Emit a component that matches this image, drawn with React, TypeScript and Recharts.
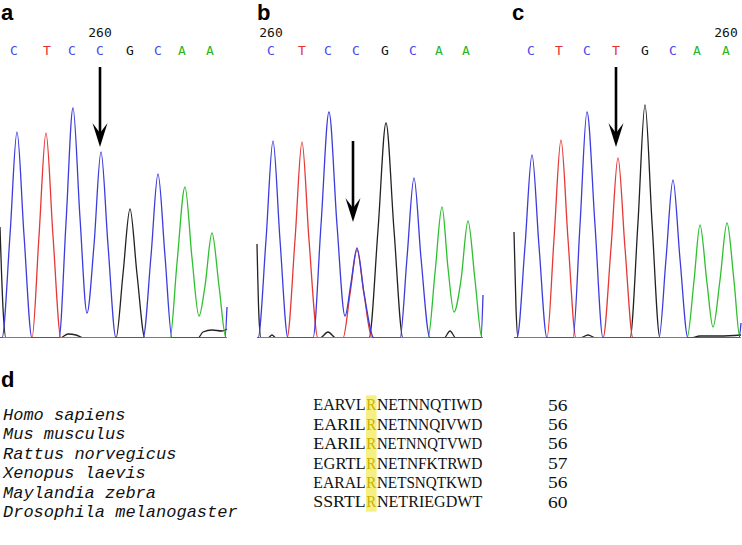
import { Line, LineChart, ReferenceDot, ReferenceLine, XAxis, YAxis } from "recharts";

// trace colours as the sequencer software draws them
const BLUE = "#3c3cdc";
const RED = "#e53935";
const GREEN = "#2fbf2f";
const BLACK = "#222222";
const BASE_COLOR: Record<string, string> = { C: "#4848e6", T: "#e03030", G: "#111111", A: "#25b525" };

// panel a (wild type)
const aBases = ["C", "T", "C", "C", "G", "C", "A", "A"];
const aBasePos = [14, 47, 72, 100, 130, 158, 182, 210];
const aBlack = [[0, 111], [3, 30], [6, 0], [60, 0], [68, 4], [76, 3], [84, 0], [116, 0], [123, 64], [130, 129], [137, 64], [145, 0], [198, 0], [203, 6], [212, 8], [222, 7], [227, 9]];
const aBlue = [[0, 0], [2, 0], [10, 103], [17, 206], [24, 103], [32, 0], [59, 0], [66, 115], [73, 230], [80, 120], [87, 25], [94, 93], [101, 186], [108, 93], [116, 0], [143, 0], [151, 82], [158, 164], [165, 82], [172, 0], [225, 0], [227, 31]];
const aRed = [[0, 0], [32, 0], [39, 102], [46, 205], [53, 102], [61, 0], [227, 0]];
const aGreen = [[0, 0], [170, 0], [177, 75], [185, 151], [192, 80], [199, 22], [205, 52], [212, 105], [219, 52], [226, 0], [227, 0]];

// panel b (heterozygous)
const bBases = ["C", "T", "C", "C", "G", "C", "A", "A"];
const bBasePos = [271, 302, 328, 356, 385, 413, 439, 466];
const bBlack = [[257, 94], [259, 20], [261, 0], [268, 0], [272, 3], [276, 0], [320, 0], [328, 6], [336, 0], [369, 0], [378, 108], [386, 215], [394, 108], [403, 0], [444, 0], [450, 7], [456, 0], [483, 0]];
const bBlue = [[257, 0], [258, 0], [266, 98], [273, 197], [280, 98], [288, 0], [313, 0], [321, 113], [329, 226], [337, 113], [345, 22], [351, 55], [357, 90], [364, 45], [374, 0], [400, 0], [407, 80], [414, 160], [421, 80], [430, 0], [481, 0], [483, 43]];
const bRed = [[257, 0], [287, 0], [295, 98], [302, 196], [309, 98], [318, 0], [343, 0], [350, 44], [357, 88], [364, 44], [372, 0], [483, 0]];
const bGreen = [[257, 0], [428, 0], [435, 65], [442, 131], [448, 70], [454, 26], [461, 58], [468, 117], [475, 58], [482, 0], [483, 0]];

// panel c (homozygous)
const cBases = ["C", "T", "C", "T", "G", "C", "A", "A"];
const cBasePos = [531, 559, 587, 616, 645, 673, 697, 726];
const cBlack = [[514, 106], [516, 30], [518, 0], [580, 0], [588, 3], [596, 0], [630, 0], [638, 116], [645, 233], [652, 116], [660, 0], [690, 0], [700, 2], [720, 2], [741, 3]];
const cBlue = [[514, 0], [517, 0], [525, 92], [532, 183], [539, 92], [547, 0], [573, 0], [580, 113], [587, 226], [595, 113], [603, 0], [659, 0], [666, 79], [673, 158], [680, 79], [688, 0], [739, 0], [741, 15]];
const cRed = [[514, 0], [547, 0], [554, 99], [561, 198], [568, 99], [576, 0], [603, 0], [611, 90], [618, 180], [625, 90], [633, 0], [741, 0]];
const cGreen = [[514, 0], [687, 0], [694, 57], [700, 113], [707, 55], [713, 11], [720, 58], [727, 115], [734, 57], [740, 0], [741, 0]];

const positionMark = [3, 0, 7]; // base index carrying the "260" label
const arrowX = [100, 353, 616];
const arrowTop = [271, 197, 271];
const arrowTip = [191, 116, 191];

// panel d
const species = ["Homo sapiens", "Mus musculus", "Rattus norvegicus", "Xenopus laevis", "Maylandia zebra", "Drosophila melanogaster"];
const sequences = ["EARVLRNETNNQTIWD", "EARILRNETNNQIVWD", "EARILRNETNNQTVWD", "EGRTLRNETNFKTRWD", "EARALRNETSNQTKWD", "SSRTLRNETRIEGDWT"];
const lengths = ["56", "56", "56", "57", "56", "60"];
const highlightCol = 5;

const toPts = (arr: number[][]) => arr.map(([x, y]) => ({ x, y }));

const panels = [
  { label: "a", left: 0, width: 245, bases: aBases, pos: aBasePos, traces: [aBlack, aRed, aGreen, aBlue] },
  { label: "b", left: 250, width: 240, bases: bBases, pos: bBasePos, traces: [bBlack, bRed, bGreen, bBlue] },
  { label: "c", left: 490, width: 252, bases: cBases, pos: cBasePos, traces: [cBlack, cRed, cGreen, cBlue] },
];
const traceColors = [BLACK, RED, GREEN, BLUE];

const labelStyle = { position: "absolute" as const, font: "bold 22px 'Liberation Sans', Arial, sans-serif", lineHeight: "22px" };

function ArrowHead({ cx, cy }: { cx?: number; cy?: number }) {
  if (cx == null || cy == null) return null;
  return <path d={`M${cx},${cy} L${cx - 7.5},${cy - 24} L${cx},${cy - 14} L${cx + 7.5},${cy - 24} Z`} fill="#000" />;
}

function Chromatogram({ p, k }: { p: (typeof panels)[number]; k: number }) {
  const tick = (t: any) => {
    const i = p.pos.indexOf(t.payload.value);
    const b = p.bases[i];
    return (
      <g>
        {i === positionMark[k] && (
          <text x={t.x} y={t.y - 23} textAnchor="middle" fontSize={13} fill="#111" fontFamily="'DejaVu Sans Mono', monospace">
            260
          </text>
        )}
        <text x={t.x} y={t.y - 5} textAnchor="middle" fontSize={13} fill={BASE_COLOR[b]} fontFamily="'DejaVu Sans Mono', monospace">
          {b}
        </text>
      </g>
    );
  };
  return (
    <div style={{ position: "absolute", left: p.left, top: 0 }}>
      <LineChart width={p.width} height={345} margin={{ top: 0, right: 0, bottom: 7, left: 0 }}>
        <XAxis
          type="number"
          dataKey="x"
          orientation="top"
          height={60}
          domain={[p.left, p.left + p.width]}
          allowDataOverflow
          ticks={p.pos}
          interval={0}
          axisLine={false}
          tickLine={false}
          tickSize={0}
          tickMargin={0}
          tick={tick}
        />
        <YAxis hide type="number" domain={[0, 278]} allowDataOverflow />
        {p.traces.map((tr, j) => (
          <Line
            key={j}
            data={toPts(tr)}
            dataKey="y"
            type="monotone"
            stroke={traceColors[j]}
            strokeWidth={1.3}
            dot={false}
            activeDot={false}
            isAnimationActive={false}
          />
        ))}
        <ReferenceLine
          segment={[{ x: arrowX[k], y: arrowTop[k] }, { x: arrowX[k], y: arrowTip[k] + 12 }]}
          stroke="#000"
          strokeWidth={2.6}
          ifOverflow="visible"
        />
        <ReferenceDot x={arrowX[k]} y={arrowTip[k]} r={0} ifOverflow="visible" shape={(s: any) => <ArrowHead cx={s.cx} cy={s.cy} />} />
      </LineChart>
    </div>
  );
}

// alignment block: rows split round the highlighted column, squeezed so each letter takes one cell
const CELL = 10.6;
const SX = 0.85;
const SEQ_LEFT = 313;
const ROW = 19.4;
const SEQ_TOP = 15.3; // inside the svg below, which starts at page y 380
const BASE_DY = 15.2;
const seqFont = { fontSize: 17.4, fontFamily: "'Liberation Serif', serif", lengthAdjust: "spacingAndGlyphs" as const };

function Alignment() {
  return (
    <svg width={742} height={165} style={{ position: "absolute", left: 0, top: 380 }}>
      <rect x={SEQ_LEFT + highlightCol * CELL} y={SEQ_TOP} width={CELL} height={ROW * sequences.length} fill="#f5ef84" />
      <g transform={`scale(${SX},1)`}>
        {sequences.map((s, r) => {
          const y = SEQ_TOP + r * ROW + BASE_DY;
          const parts = [
            { t: s.slice(0, highlightCol), c0: 0, fill: "#111" },
            { t: s.slice(highlightCol, highlightCol + 1), c0: highlightCol, fill: "#c9b400" },
            { t: s.slice(highlightCol + 1), c0: highlightCol + 1, fill: "#111" },
          ];
          return (
            <g key={r}>
              {parts.map((pt, j) => (
                <text
                  key={j}
                  x={(SEQ_LEFT + pt.c0 * CELL + 0.3) / SX}
                  y={y}
                  textLength={(pt.t.length * CELL - 0.6) / SX}
                  fill={pt.fill}
                  {...seqFont}
                >
                  {pt.t}
                </text>
              ))}
            </g>
          );
        })}
      </g>
      {lengths.map((n, r) => (
        <text key={r} x={548} y={SEQ_TOP + r * ROW + BASE_DY} textLength={19.5} {...seqFont} fill="#111">
          {n}
        </text>
      ))}
    </svg>
  );
}

export default function App() {
  return (
    <div style={{ position: "absolute", left: 0, top: 0, width: 742, height: 545, background: "#fff", overflow: "hidden" }}>
      {panels.map((p, k) => (
        <Chromatogram key={p.label} p={p} k={k} />
      ))}
      <div style={{ ...labelStyle, left: 1, top: 2 }}>a</div>
      <div style={{ ...labelStyle, left: 257, top: 2 }}>b</div>
      <div style={{ ...labelStyle, left: 512, top: 2 }}>c</div>
      <div style={{ ...labelStyle, left: 1, top: 369 }}>d</div>

      <div style={{ position: "absolute", left: 3, top: 406, font: "italic 17px 'Liberation Mono', monospace", lineHeight: "19.4px", color: "#111" }}>
        {species.map((s) => (
          <div key={s} style={{ whiteSpace: "pre" }}>
            {s}
          </div>
        ))}
      </div>

      <Alignment />
    </div>
  );
}
